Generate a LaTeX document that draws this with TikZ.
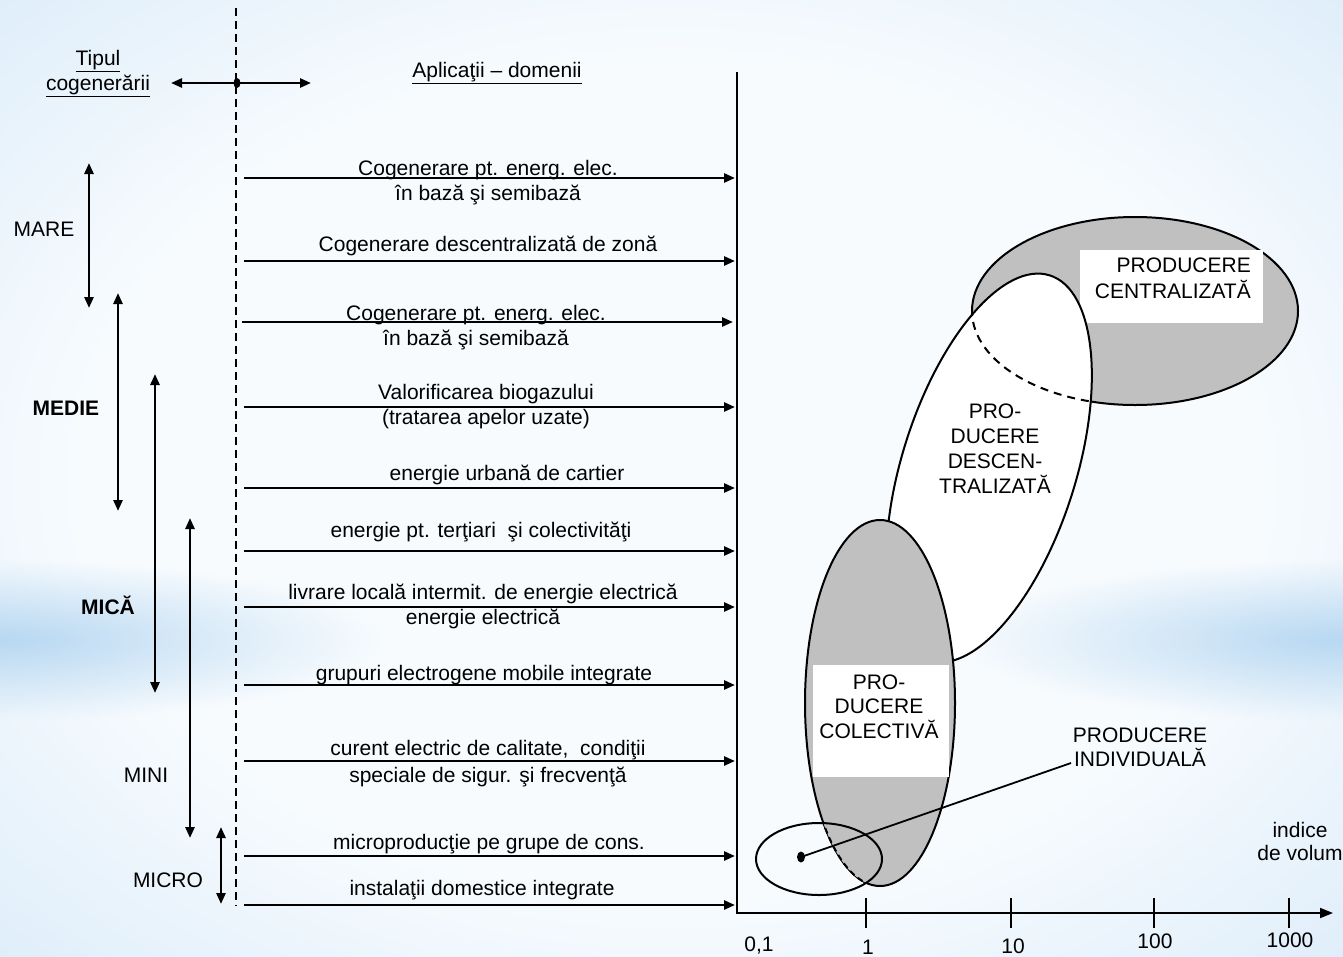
\documentclass[tikz,border=0pt]{standalone}
\usepackage{fontspec}
\setmainfont{Liberation Sans}
\usetikzlibrary{arrows.meta,positioning,shapes.geometric,fadings}
\definecolor{bgblue}{HTML}{C6E0F6}
\definecolor{bgwhite}{HTML}{F7FBFE}
\definecolor{bgband}{HTML}{B8D8F2}
\definecolor{ellgray}{HTML}{C0C0C0}
\pgfdeclareradialshading{bgshade}{\pgfpoint{0bp}{0bp}}{%
  color(0bp)=(bgwhite); color(22bp)=(bgwhite); color(50bp)=(bgblue); color(70bp)=(bgblue)}
\tikzfading[name=bandfade, inner color=transparent!0, outer color=transparent!100]
\tikzset{%
   lbl/.style={font=\fontsize{21}{25}\selectfont, inner sep=0pt, align=center},
   harrow/.style={line width=2.6pt, -{Triangle[length=11pt,width=9pt]}},
   varrow/.style={line width=2.5pt, {Triangle[length=11pt,width=9pt]}-{Triangle[length=11pt,width=9pt]}},
   zone/.style={line width=2pt, draw=black},
   sep/.style={line width=1.4pt, dash pattern=on 8pt off 5pt},
   dot/.style={ellipse, inner sep=0pt, minimum width=8pt, minimum height=11pt, fill=black},
}

\begin{document}
\begin{tikzpicture}[x=1pt, y=-1pt]
  % background
  \useasboundingbox (0,0) rectangle (1343,956);
  \shade[shading=bgshade] (0,0) rectangle (1343,956);
  \fill[bgband, path fading=bandfade] (-380,560) rectangle (380,720);
  \fill[bgband, path fading=bandfade] (963,560) rectangle (1723,720);

  % header
  \coordinate (d0) at (236,8);
  \coordinate (d1) at (236,906);
  \draw[sep] (d0) -- (d1);
  \node[lbl, anchor=base] (tip) at (98,90) {\underline{Tipul}\\\underline{cogenerării}};
  \node[lbl, anchor=base] (apl) at (497,77) {\underline{Aplicaţii – domenii}};
  \coordinate (hl) at (171,83);
  \coordinate (hr) at (311,83);
  \draw[varrow] (hl) -- (hr);
  \node[dot, minimum width=7pt, minimum height=10pt] (o) at (237,83) {};

  % sizes of cogeneration
  \coordinate (m1a) at (89,163);  \coordinate (m1b) at (89,308);
  \coordinate (m2a) at (118,293); \coordinate (m2b) at (118,511);
  \coordinate (m3a) at (155,374); \coordinate (m3b) at (155,693);
  \coordinate (m4a) at (190,518); \coordinate (m4b) at (190,838);
  \coordinate (m5a) at (221,827); \coordinate (m5b) at (221,904);
  \draw[varrow] (m1a) -- (m1b);
  \draw[varrow] (m2a) -- (m2b);
  \draw[varrow] (m3a) -- (m3b);
  \draw[varrow] (m4a) -- (m4b);
  \draw[varrow] (m5a) -- (m5b);
  \node[lbl, anchor=base] (mare) at (44,236) {MARE};
  \node[lbl, anchor=base] (medie) at (66,415) {\bfseries MEDIE};
  \node[lbl, anchor=base] (mica) at (108,614) {\bfseries MICĂ};
  \node[lbl, anchor=base] (mini) at (146,782) {MINI};
  \node[lbl, anchor=base] (micro) at (168,887) {MICRO};

  % applications
  \coordinate (s1) at (244,178);  \coordinate (e1) at (735,178);
  \coordinate (s2) at (244,261);  \coordinate (e2) at (735,261);
  \coordinate (s3) at (242,322);  \coordinate (e3) at (733,322);
  \coordinate (s4) at (244,407);  \coordinate (e4) at (735,407);
  \coordinate (s5) at (244,488);  \coordinate (e5) at (735,488);
  \coordinate (s6) at (244,551);  \coordinate (e6) at (735,551);
  \coordinate (s7) at (244,607);  \coordinate (e7) at (735,607);
  \coordinate (s8) at (244,685);  \coordinate (e8) at (735,685);
  \coordinate (s9) at (244,761);  \coordinate (e9) at (735,761);
  \coordinate (s10) at (244,856); \coordinate (e10) at (735,856);
  \coordinate (s11) at (244,905); \coordinate (e11) at (735,905);
  \draw[harrow] (s1) -- (e1);
  \draw[harrow] (s2) -- (e2);
  \draw[harrow] (s3) -- (e3);
  \draw[harrow] (s4) -- (e4);
  \draw[harrow] (s5) -- (e5);
  \draw[harrow] (s6) -- (e6);
  \draw[harrow] (s7) -- (e7);
  \draw[harrow] (s8) -- (e8);
  \draw[harrow] (s9) -- (e9);
  \draw[harrow] (s10) -- (e10);
  \draw[harrow] (s11) -- (e11);
  \node[lbl, anchor=base] (t1) at (488,200) {Cogenerare pt. energ. elec.\\în bază şi semibază};
  \node[lbl, anchor=base] (t2) at (488,251) {Cogenerare descentralizată de zonă};
  \node[lbl, anchor=base] (t3) at (476,345) {Cogenerare pt. energ. elec.\\în bază şi semibază};
  \node[lbl, anchor=base] (t4) at (486,424) {Valorificarea biogazului\\(tratarea apelor uzate)};
  \node[lbl, anchor=base] (t5) at (507,480) {energie urbană de cartier};
  \node[lbl, anchor=base] (t6) at (481,537) {energie pt. terţiari~ şi colectivităţi};
  \node[lbl, anchor=base] (t7) at (483,624) {livrare locală intermit. de energie electrică\\energie electrică};
  \node[lbl, anchor=base] (t8) at (484,680) {grupuri electrogene mobile integrate};
  \node[lbl, anchor=base, font=\fontsize{21}{27}\selectfont] (t9) at (488,782) {curent electric de calitate,~ condiţii\\speciale de sigur. şi frecvenţă};
  \node[lbl, anchor=base] (t10) at (489,849) {microproducţie pe grupe de cons.};
  \node[lbl, anchor=base] (t11) at (482,895) {instalaţii domestice integrate};

  % axes
  \coordinate (ytop) at (737,72);
  \coordinate (o0) at (737,913);
  \coordinate (xend) at (1333,913);
  \draw[line width=1.8pt, -{Triangle[length=13pt,width=10pt]}] (ytop) -- (o0) -- (xend);
  \draw[line width=2pt] (866,898) -- (866,928);
  \draw[line width=2pt] (1011,898) -- (1011,928);
  \draw[line width=2pt] (1154,898) -- (1154,928);
  \draw[line width=2pt] (1289,898) -- (1289,928);
  \node[lbl, anchor=base] (v0) at (759,951) {0,1};
  \node[lbl, anchor=base] (v1) at (868,954) {1};
  \node[lbl, anchor=base] (v2) at (1013,953) {10};
  \node[lbl, anchor=base] (v3) at (1155,948) {100};
  \node[lbl, anchor=base] (v4) at (1290,947) {1000};
  \node[lbl, anchor=base, font=\fontsize{21}{23}\selectfont] (vol) at (1300,860) {indice\\de volum};

  % centralised production
  \filldraw[zone, fill=ellgray] (1135,311) ellipse [x radius=163, y radius=94];
  \fill[white] (1080,250) rectangle (1263,323);
  \node[lbl, align=right, anchor=base east, font=\fontsize{21}{26}\selectfont] (cen) at (1251,298) {PRODUCERE\\CENTRALIZATĂ};

  % decentralised production
  \filldraw[zone, fill=white, rotate around={72.5:(989,468)}] (989,468) ellipse [x radius=202, y radius=87];
  \begin{scope}
    \clip[rotate around={72.5:(989,468)}] (989,468) ellipse [x radius=202, y radius=87];
    \draw[zone, dash pattern=on 8pt off 6pt] (1135,311) ellipse [x radius=163, y radius=94];
  \end{scope}
  \node[lbl, anchor=base] (desc) at (995,493) {PRO-\\DUCERE\\DESCEN-\\TRALIZATĂ};

  % collective production
  \filldraw[zone, fill=ellgray] (880,703) ellipse [x radius=75, y radius=183];
  \fill[white] (813,665) rectangle (949,777);
  \node[lbl, anchor=base, font=\fontsize{21}{24.5}\selectfont] (col) at (879,738) {PRO-\\DUCERE\\COLECTIVĂ};

  % individual production
  \begin{scope}
    \clip (819,859) ellipse [x radius=63, y radius=36];
    \fill[ellgray] (880,703) ellipse [x radius=75, y radius=183];
    \draw[zone, dash pattern=on 6pt off 4pt] (880,703) ellipse [x radius=75, y radius=183];
  \end{scope}
  \draw[zone] (819,859) ellipse [x radius=63, y radius=36];
  \node[dot] (idot) at (801,857) {};
  \coordinate (iend) at (1071,763);
  \draw[line width=1.8pt] (idot.center) -- (iend);
  \node[lbl, anchor=base, font=\fontsize{21}{24}\selectfont] (ind) at (1140,766) {PRODUCERE\\INDIVIDUALĂ};
\end{tikzpicture}
\end{document}
